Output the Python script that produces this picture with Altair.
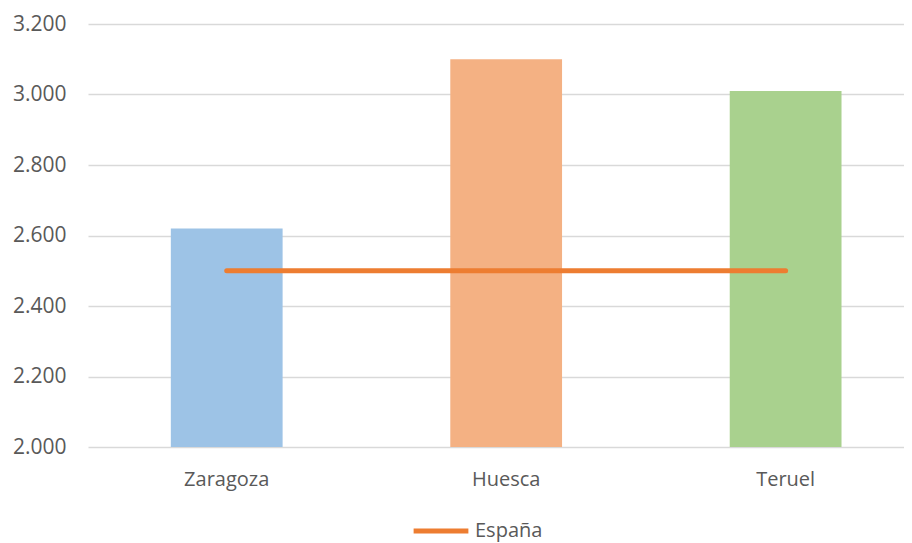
import altair as alt
import pandas as pd

categories = ["Zaragoza", "Huesca", "Teruel"]
values = [2620, 3100, 3010]
bar_colors = ["#9DC3E6", "#F4B183", "#A9D18E"]
espana_value = [2500, 2500, 2500]
series_name = "España"

bars_df = pd.DataFrame({"provincia": categories, "valor": values})
line_df = pd.DataFrame({"provincia": categories, "valor": espana_value, "serie": [series_name] * 3})

FONT = "Open Sans"
x_enc = alt.X(
    "provincia:N",
    sort=categories,
    scale=alt.Scale(paddingInner=0.6, paddingOuter=0.26, align=0.57),
    axis=alt.Axis(title=None, labelAngle=0, ticks=False, domain=False, labelPadding=22,
                  labelFontSize=20, labelColor="#595959", labelFont=FONT, grid=False),
)
y_scale = alt.Scale(domain=[2000, 3200], nice=False, zero=False)
y_axis = alt.Axis(title=None, values=[2000, 2200, 2400, 2600, 2800, 3000, 3200],
                  labelExpr="replace(format(datum.value, ','), ',', '.')",
                  ticks=False, domain=False, labelPadding=22, labelFontSize=21,
                  labelColor="#595959", labelFont=FONT, grid=True,
                  gridColor="#D9D9D9", gridWidth=1.5)

bars = alt.Chart(bars_df).mark_bar(clip=True).encode(
    x=x_enc,
    y=alt.Y("valor:Q", scale=y_scale, axis=y_axis),
    y2=alt.datum(2000),
    color=alt.Color("provincia:N", scale=alt.Scale(domain=categories, range=bar_colors), legend=None),
)

line = alt.Chart(line_df).mark_line(strokeWidth=5, strokeCap="round").encode(
    x=alt.X("provincia:N", sort=categories),
    y=alt.Y("valor:Q", scale=y_scale),
    color=alt.Color("serie:N", scale=alt.Scale(domain=[series_name], range=["#ED7D31"]),
                    legend=alt.Legend(title=None, orient="none", legendX=323, legendY=477,
                                      symbolType="stroke", symbolStrokeWidth=5, symbolSize=3000,
                                      labelOffset=4,
                                      labelFontSize=20, labelColor="#595959", labelFont=FONT)),
)

chart = alt.layer(bars, line).resolve_scale(color="independent").properties(
    width=816, height=423,
    autosize=alt.AutoSizeParams(type="none"),
    padding={"left": 80, "top": 16, "right": 0, "bottom": 96},
).configure_view(stroke=None)

chart.save("out.html", embed_options={"renderer": "svg", "actions": False})
